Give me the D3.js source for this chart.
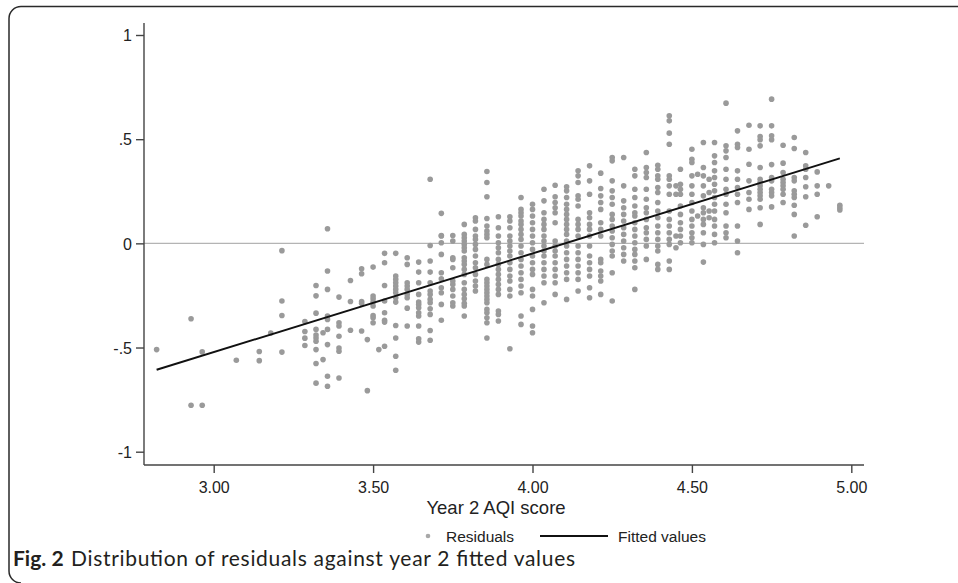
<!DOCTYPE html>
<html>
<head>
<meta charset="utf-8">
<script src="https://cdn.jsdelivr.net/npm/d3@7"></script>
<style>
  html, body { margin: 0; padding: 0; background: #fff; }
  svg { display: block; }
</style>
</head>
<body>
<svg id="chart" width="958" height="583"></svg>
<script>
// AQI score columns (scores are averages of 28 items, so they fall on k/28)
const aqiScores = [
  2.821, 2.929, 2.964, 3.071, 3.143, 3.179, 3.214, 3.286, 3.321, 3.343,
  3.357, 3.393, 3.429, 3.464, 3.482, 3.500, 3.518, 3.536, 3.571, 3.607,
  3.643, 3.679, 3.714, 3.750, 3.786, 3.821, 3.857, 3.893, 3.929, 3.964,
  4.000, 4.036, 4.071, 4.107, 4.143, 4.179, 4.214, 4.250, 4.286, 4.321,
  4.357, 4.393, 4.429, 4.450, 4.464, 4.500, 4.518, 4.536, 4.554, 4.571,
  4.607, 4.643, 4.679, 4.714, 4.750, 4.786, 4.821, 4.857, 4.893, 4.929,
  4.964
];

// Residuals observed at each AQI score column above
const residualsByScore = [
  [-0.51],
  [-0.362, -0.777],
  [-0.521, -0.777],
  [-0.561],
  [-0.519, -0.563],
  [-0.43],
  [-0.035, -0.277, -0.346, -0.522],
  [-0.375, -0.423, -0.455, -0.49],
  [-0.202, -0.252, -0.335, -0.413, -0.44, -0.454, -0.47, -0.51, -0.577, -0.671],
  [-0.429, -0.558],
  [0.07, -0.133, -0.221, -0.349, -0.365, -0.413, -0.486, -0.638, -0.686],
  [-0.258, -0.381, -0.397, -0.446, -0.502, -0.518, -0.646],
  [-0.178, -0.279, -0.417],
  [-0.122, -0.146, -0.279, -0.288, -0.421],
  [-0.462, -0.707],
  [-0.114, -0.253, -0.266, -0.282, -0.301, -0.346, -0.357, -0.381],
  [-0.51],
  [-0.048, -0.093, -0.202, -0.277, -0.333, -0.369, -0.378, -0.494],
  [-0.048, -0.157, -0.173, -0.189, -0.205, -0.221, -0.237, -0.261, -0.282, -0.394, -0.454, -0.542, -0.609],
  [-0.069, -0.101, -0.189, -0.205, -0.221, -0.245, -0.261, -0.311, -0.397],
  [-0.09, -0.138, -0.189, -0.245, -0.282, -0.293, -0.309, -0.333, -0.349, -0.397, -0.458, -0.474],
  [0.308, -0.01, -0.085, -0.138, -0.189, -0.229, -0.245, -0.269, -0.285, -0.314, -0.341, -0.418, -0.465],
  [0.144, 0.038, 0.035, 0.003, -0.053, -0.141, -0.17, -0.213, -0.237, -0.293, -0.369],
  [0.038, 0.011, -0.069, -0.077, -0.117, -0.181, -0.197, -0.221, -0.253, -0.285, -0.301],
  [0.091, 0.043, 0.027, 0.011, -0.005, -0.021, -0.037, -0.069, -0.085, -0.101, -0.125, -0.149, -0.189, -0.221, -0.245, -0.266, -0.288, -0.301, -0.349],
  [0.123, 0.107, 0.067, 0.035, 0.019, -0.005, -0.029, -0.061, -0.093, -0.117, -0.149, -0.181, -0.205, -0.229],
  [0.345, 0.292, 0.224, 0.119, 0.083, 0.059, 0.043, 0.027, -0.077, -0.101, -0.173, -0.189, -0.205, -0.221, -0.237, -0.253, -0.269, -0.285, -0.317, -0.333, -0.357, -0.381, -0.454],
  [0.128, 0.075, 0.035, 0.003, -0.021, -0.045, -0.077, -0.101, -0.125, -0.149, -0.173, -0.197, -0.221, -0.245, -0.325, -0.341, -0.373],
  [0.128, 0.107, 0.075, 0.035, 0.011, -0.013, -0.037, -0.061, -0.093, -0.125, -0.157, -0.181, -0.221, -0.253, -0.506],
  [0.22, 0.163, 0.147, 0.131, 0.107, 0.091, 0.067, 0.043, 0.019, -0.013, -0.045, -0.077, -0.109, -0.141, -0.173, -0.205, -0.237, -0.349, -0.389],
  [0.188, 0.163, 0.131, 0.099, 0.067, 0.035, 0.003, -0.029, -0.061, -0.093, -0.125, -0.149, -0.221, -0.253, -0.317, -0.397, -0.429],
  [0.26, 0.204, 0.147, 0.115, 0.091, 0.067, 0.035, 0.011, -0.013, -0.037, -0.061, -0.093, -0.125, -0.157, -0.189, -0.285],
  [0.279, 0.224, 0.196, 0.171, 0.147, 0.099, 0.011, -0.013, -0.037, -0.061, -0.093, -0.125, -0.157, -0.189, -0.245],
  [0.272, 0.252, 0.22, 0.188, 0.163, 0.139, 0.115, 0.091, 0.067, 0.043, 0.011, -0.013, -0.045, -0.077, -0.109, -0.141, -0.173, -0.269],
  [0.348, 0.324, 0.292, 0.228, 0.212, 0.179, 0.115, 0.091, 0.067, 0.035, -0.013, -0.045, -0.077, -0.109, -0.141, -0.173, -0.229],
  [0.372, 0.3, 0.236, 0.147, 0.123, 0.091, 0.067, 0.035, -0.013, -0.061, -0.093, -0.125, -0.157, -0.213, -0.261],
  [0.337, 0.263, 0.228, 0.196, 0.163, 0.099, 0.067, 0.035, -0.077, -0.093, -0.133, -0.157, -0.181, -0.245],
  [0.412, 0.396, 0.3, 0.252, 0.22, 0.188, 0.139, 0.115, 0.083, 0.059, 0.027, -0.005, -0.037, -0.061, -0.141, -0.277],
  [0.412, 0.276, 0.204, 0.171, 0.139, 0.107, 0.075, 0.043, 0.011, -0.021, -0.053, -0.085],
  [0.356, 0.324, 0.26, 0.22, 0.179, 0.147, 0.131, 0.099, 0.067, 0.035, 0.003, -0.029, -0.053, -0.085, -0.117, -0.221],
  [0.436, 0.364, 0.34, 0.316, 0.26, 0.212, 0.171, 0.147, 0.115, 0.075, 0.051, 0.019, -0.013, -0.077],
  [0.375, 0.356, 0.324, 0.308, 0.268, 0.244, 0.196, 0.155, 0.123, 0.083, 0.051, 0.019, -0.013, -0.037, -0.101, -0.125],
  [0.612, 0.588, 0.529, 0.476, 0.324, 0.308, 0.276, 0.236, 0.155, 0.115, 0.083, 0.051, 0.019, -0.005, -0.085, -0.125],
  [0.276, 0.236, 0.035, -0.021],
  [0.356, 0.284, 0.26, 0.236, 0.179, 0.139, 0.099, 0.067, 0.035, 0.003],
  [0.452, 0.404, 0.388, 0.324, 0.276, 0.236, 0.196, 0.155, 0.115, 0.083, 0.051, 0.027, 0.003],
  [0.332, 0.131],
  [0.484, 0.364, 0.324, 0.276, 0.228, 0.171, 0.147, 0.115, 0.091, 0.051, -0.005, -0.09],
  [0.308, 0.244, 0.155, 0.123],
  [0.484, 0.42, 0.388, 0.348, 0.316, 0.284, 0.252, 0.22, 0.188, 0.155, 0.115, 0.083, 0.043, 0.003],
  [0.673, 0.468, 0.444, 0.412, 0.356, 0.308, 0.26, 0.236, 0.188, 0.147, 0.083, 0.051, 0.027],
  [0.54, 0.476, 0.46, 0.348, 0.308, 0.268, 0.236, 0.196, 0.083, 0.011, -0.045],
  [0.567, 0.452, 0.38, 0.3, 0.244, 0.212, 0.163],
  [0.564, 0.513, 0.497, 0.468, 0.364, 0.308, 0.292, 0.276, 0.26, 0.244, 0.228, 0.212, 0.171, 0.091],
  [0.692, 0.564, 0.516, 0.497, 0.378, 0.316, 0.3, 0.26, 0.244, 0.228, 0.175],
  [0.471, 0.385, 0.34, 0.308, 0.292, 0.276, 0.26, 0.236, 0.196],
  [0.508, 0.455, 0.316, 0.3, 0.252, 0.236, 0.22, 0.183, 0.139, 0.035],
  [0.436, 0.372, 0.356, 0.316, 0.272, 0.224, 0.087],
  [0.343, 0.276, 0.236, 0.128],
  [0.276],
  [0.183, 0.171, 0.16]
];

// Linear fit evaluated at the lowest and highest AQI scores
const fittedScores = [2.821, 4.964];
const fittedValues = [-0.607, 0.408];

const xTickValues = [3, 3.5, 4, 4.5, 5];
const xTickLabels = ["3.00", "3.50", "4.00", "4.50", "5.00"];
const yTickValues = [1, 0.5, 0, -0.5, -1];
const yTickLabels = ["1", ".5", "0", "-.5", "-1"];

const xTitle = "Year 2 AQI score";
const legendLabels = ["Residuals", "Fitted values"];
const captionLabel = "Fig. 2";
const captionText = "Distribution of residuals against year 2 fitted values";

const points = [];
aqiScores.forEach((s, i) => residualsByScore[i].forEach(r => points.push({ x: s, y: r })));

const svg = d3.select("#chart");
const axisFont = "'Liberation Sans', Arial, Helvetica, sans-serif";
const pointColor = "#9a9a9a";

// Panel frame: top rule and left rule with rounded corners
svg.append("path")
  .attr("d", "M958,6.5 H21 A12,12 0 0 0 9,18.5 V571 A12,12 0 0 0 21,583")
  .attr("fill", "none")
  .attr("stroke", "#2a2a2a")
  .attr("stroke-width", 1.5);

const plot = { left: 144, right: 864, top: 23, bottom: 465 };

const x = d3.scaleLinear()
  .domain([2.7814, 5.0398])
  .range([plot.left, plot.right]);

const y = d3.scaleLinear()
  .domain([-1, 1])
  .range([451.7, 35]);

// Reference line at zero
svg.append("line")
  .attr("x1", plot.left).attr("x2", plot.right)
  .attr("y1", y(0)).attr("y2", y(0))
  .attr("stroke", "#b4b4b4")
  .attr("stroke-width", 1.2);

// Residual points
svg.append("g")
  .selectAll("circle")
  .data(points)
  .join("circle")
  .attr("cx", d => x(d.x))
  .attr("cy", d => y(d.y))
  .attr("r", 2.8)
  .attr("fill", pointColor);

// Fitted line
const fitted = fittedScores.map((s, i) => [s, fittedValues[i]]);
svg.append("path")
  .datum(fitted)
  .attr("d", d3.line().x(d => x(d[0])).y(d => y(d[1])))
  .attr("fill", "none")
  .attr("stroke", "#111")
  .attr("stroke-width", 2);

// Axes
const xAxis = d3.axisBottom(x)
  .tickValues(xTickValues)
  .tickFormat((d, i) => xTickLabels[i])
  .tickSize(8)
  .tickPadding(4)
  .tickSizeOuter(0);

const yAxis = d3.axisLeft(y)
  .tickValues(yTickValues)
  .tickFormat((d, i) => yTickLabels[i])
  .tickSize(8)
  .tickPadding(4)
  .tickSizeOuter(0);

const gx = svg.append("g")
  .attr("transform", `translate(0,${plot.bottom})`)
  .call(xAxis);
gx.select(".domain").attr("d", `M${plot.left},0H${plot.right}`);

const gy = svg.append("g")
  .attr("transform", `translate(${plot.left},0)`)
  .call(yAxis);
gy.select(".domain").attr("d", `M0,${plot.top}V${plot.bottom}`);

[gx, gy].forEach(g => {
  g.select(".domain").attr("stroke", "#444").attr("stroke-width", 1.4);
  g.selectAll(".tick line").attr("stroke", "#444").attr("stroke-width", 1.4);
  g.selectAll(".tick text")
    .attr("fill", "#222")
    .style("font-family", axisFont)
    .style("font-size", "16px");
});
gx.selectAll(".tick text").attr("dy", null).attr("y", 27.5);
gy.selectAll(".tick text").attr("dy", "0.36em");

// Axis title
svg.append("text")
  .attr("x", 496)
  .attr("y", 514)
  .attr("text-anchor", "middle")
  .attr("fill", "#222")
  .style("font-family", axisFont)
  .style("font-size", "18.5px")
  .text(xTitle);

// Legend
const legend = svg.append("g").attr("transform", "translate(0,537)");
legend.append("circle")
  .attr("cx", 428).attr("cy", -1)
  .attr("r", 2.3)
  .attr("fill", "#a8a8a8");
legend.append("text")
  .attr("x", 446).attr("y", 5)
  .attr("fill", "#222")
  .style("font-family", axisFont)
  .style("font-size", "15.5px")
  .text(legendLabels[0]);
legend.append("line")
  .attr("x1", 540).attr("x2", 608)
  .attr("y1", -1).attr("y2", -1)
  .attr("stroke", "#111")
  .attr("stroke-width", 2);
legend.append("text")
  .attr("x", 618).attr("y", 5)
  .attr("fill", "#222")
  .style("font-family", axisFont)
  .style("font-size", "15.5px")
  .text(legendLabels[1]);

// Caption
svg.append("text")
  .attr("x", 13)
  .attr("y", 566)
  .attr("fill", "#231f20")
  .style("font-family", "Lato, 'Open Sans', sans-serif")
  .style("font-size", "21px")
  .style("font-weight", "bold")
  .text(captionLabel);
svg.append("text")
  .attr("x", 71)
  .attr("y", 566)
  .attr("fill", "#231f20")
  .attr("textLength", 504)
  .attr("lengthAdjust", "spacing")
  .style("font-family", "Lato, 'Open Sans', sans-serif")
  .style("font-size", "21px")
  .text(captionText);
</script>
</body>
</html>
